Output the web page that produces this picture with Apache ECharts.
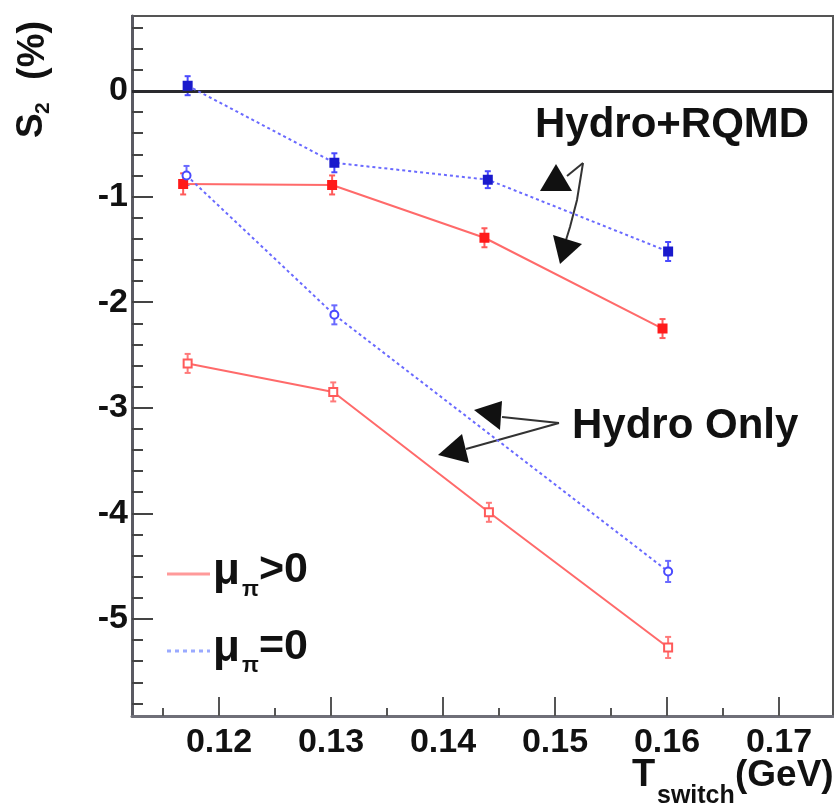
<!DOCTYPE html>
<html>
<head>
<meta charset="utf-8">
<script src="https://cdn.jsdelivr.net/npm/echarts@6/dist/echarts.min.js"></script>
<style>
  html, body { margin: 0; padding: 0; background: #fff; }
  #chart { width: 834px; height: 803px; }
</style>
</head>
<body>
<div id="chart"></div>
<script>
// Tick positions and labels
const xMajorTicks = [0.12, 0.13, 0.14, 0.15, 0.16, 0.17];
const xMinorTicks = [0.115, 0.125, 0.135, 0.145, 0.155, 0.165];
const yMajorTicks = [-5, -4, -3, -2, -1, 0];
const yMinorTicks = [-5.8, -5.6, -5.4, -5.2, -4.8, -4.6, -4.4, -4.2, -3.8, -3.6, -3.4, -3.2,
                     -2.8, -2.6, -2.4, -2.2, -1.8, -1.6, -1.4, -1.2, -0.8, -0.6, -0.4, -0.2,
                     0.2, 0.4, 0.6];

// Hydro+RQMD, mu_pi > 0 (filled red)
const rqmdMuPosT   = [0.1168, 0.1301, 0.1437, 0.1596];
const rqmdMuPosS2  = [-0.88, -0.89, -1.39, -2.25];
const rqmdMuPosErr = [0.10, 0.09, 0.09, 0.09];
// Hydro+RQMD, mu_pi = 0 (filled blue)
const rqmdMuZeroT   = [0.1172, 0.1303, 0.1440, 0.1601];
const rqmdMuZeroS2  = [0.05, -0.68, -0.84, -1.52];
const rqmdMuZeroErr = [0.09, 0.09, 0.08, 0.09];
// Hydro only, mu_pi > 0 (open red)
const hydroMuPosT   = [0.1172, 0.1302, 0.1441, 0.1601];
const hydroMuPosS2  = [-2.58, -2.85, -3.99, -5.27];
const hydroMuPosErr = [0.09, 0.09, 0.09, 0.10];
// Hydro only, mu_pi = 0 (open blue)
const hydroMuZeroT   = [0.1171, 0.1303, 0.1601];
const hydroMuZeroS2  = [-0.80, -2.12, -4.55];
const hydroMuZeroErr = [0.09, 0.09, 0.10];

const RED_LINE = '#ff6a6a';
const BLUE_LINE = '#6a6aff';
const FONT = '"Liberation Sans", Arial, sans-serif';

function pairs(xs, ys) { return xs.map((x, i) => [x, ys[i]]); }
function errRows(xs, ys, es) { return xs.map((x, i) => [x, ys[i] - es[i], ys[i] + es[i]]); }

function errorSeries(rows, color) {
  return {
    type: 'custom',
    xAxisIndex: 0, yAxisIndex: 0,
    data: rows,
    encode: { x: 0, y: [1, 2] },
    z: 4,
    silent: true,
    renderItem: function (params, api) {
      const x = api.value(0);
      const lo = api.coord([x, api.value(1)]);
      const hi = api.coord([x, api.value(2)]);
      const cap = 3;
      const style = { stroke: color, lineWidth: 2 };
      return {
        type: 'group',
        children: [
          { type: 'line', shape: { x1: lo[0], y1: lo[1], x2: hi[0], y2: hi[1] }, style: style },
          { type: 'line', shape: { x1: lo[0] - cap, y1: lo[1], x2: lo[0] + cap, y2: lo[1] }, style: style },
          { type: 'line', shape: { x1: hi[0] - cap, y1: hi[1], x2: hi[0] + cap, y2: hi[1] }, style: style }
        ]
      };
    }
  };
}

function lineSeries(name, data, lineColor, dashed, symbol, markColor) {
  return {
    name: name,
    type: 'line',
    xAxisIndex: 0, yAxisIndex: 0,
    data: data,
    symbol: symbol,
    symbolSize: 8,
    showSymbol: true,
    z: 5,
    lineStyle: { color: lineColor, width: 2, type: dashed ? [3, 3] : 'solid' },
    itemStyle: { color: markColor, borderColor: markColor, borderWidth: 2 },
    emphasis: { disabled: true },
    animation: false
  };
}

const chart = echarts.init(document.getElementById('chart'), null, { renderer: 'canvas' });

const tickText = { color: '#111', fontSize: 34, fontWeight: 'bold', fontFamily: FONT };

chart.setOption({
  animation: false,
  backgroundColor: '#fff',
  grid: {
    left: 132, top: 16, width: 701, height: 700,
    show: true, borderColor: '#555', borderWidth: 2, backgroundColor: 'transparent'
  },
  xAxis: [
    {
      type: 'value', min: 0.112232, max: 0.174821, position: 'bottom',
      axisLine: { show: true, onZero: false, lineStyle: { color: '#6f6f78', width: 3 } },
      axisTick: { show: true, inside: true, length: 19, customValues: xMajorTicks,
                  lineStyle: { color: '#555', width: 2 } },
      axisLabel: Object.assign({ show: true, margin: 10, customValues: xMajorTicks,
                  formatter: v => v.toFixed(2) }, tickText),
      splitLine: { show: false }
    },
    {
      type: 'value', min: 0.112232, max: 0.174821, position: 'bottom',
      axisLine: { show: false, onZero: false },
      axisTick: { show: true, inside: true, length: 8, customValues: xMinorTicks,
                  lineStyle: { color: '#555', width: 2 } },
      axisLabel: { show: false },
      splitLine: { show: false }
    }
  ],
  yAxis: [
    {
      type: 'value', min: -5.919, max: 0.710, position: 'left',
      axisLine: { show: true, onZero: false, lineStyle: { color: '#5a5a62', width: 3 } },
      axisTick: { show: true, inside: true, length: 21, customValues: yMajorTicks,
                  lineStyle: { color: '#444', width: 2 } },
      axisLabel: Object.assign({ show: true, margin: 4, customValues: yMajorTicks,
                  formatter: v => String(v) }, tickText),
      splitLine: { show: false }
    },
    {
      type: 'value', min: -5.919, max: 0.710, position: 'left',
      axisLine: { show: false, onZero: false },
      axisTick: { show: true, inside: true, length: 11, customValues: yMinorTicks,
                  lineStyle: { color: '#444', width: 2 } },
      axisLabel: { show: false },
      splitLine: { show: false }
    }
  ],
  series: [
    Object.assign(lineSeries('Hydro+RQMD, \u03bc\u03c0>0', pairs(rqmdMuPosT, rqmdMuPosS2),
                             RED_LINE, false, 'rect', '#ff1a1a'), {
      markLine: {
        silent: true, symbol: 'none', label: { show: false },
        lineStyle: { color: '#2a2a2e', width: 3, type: 'solid' },
        data: [{ yAxis: 0 }]
      }
    }),
    lineSeries('Hydro+RQMD, \u03bc\u03c0=0', pairs(rqmdMuZeroT, rqmdMuZeroS2),
               BLUE_LINE, true, 'rect', '#1a1acc'),
    lineSeries('Hydro only, \u03bc\u03c0>0', pairs(hydroMuPosT, hydroMuPosS2),
               RED_LINE, false, 'emptyRect', '#ff5a5a'),
    lineSeries('Hydro only, \u03bc\u03c0=0', pairs(hydroMuZeroT, hydroMuZeroS2),
               BLUE_LINE, true, 'emptyCircle', '#4a4aff'),
    errorSeries(errRows(rqmdMuPosT, rqmdMuPosS2, rqmdMuPosErr), '#ff5a5a'),
    errorSeries(errRows(rqmdMuZeroT, rqmdMuZeroS2, rqmdMuZeroErr), '#4a4aff'),
    errorSeries(errRows(hydroMuPosT, hydroMuPosS2, hydroMuPosErr), '#ff7a7a'),
    errorSeries(errRows(hydroMuZeroT, hydroMuZeroS2, hydroMuZeroErr), '#6a6aff')
  ],
  graphic: [
    // y-axis title: S_2 (%)
    {
      type: 'group', x: 32, y: 138, rotation: Math.PI / 2,
      children: [
        { type: 'text', x: 0, y: 0, style: { text: 'S', font: 'bold 37px ' + FONT, fill: '#111',
          textAlign: 'left', textVerticalAlign: 'middle' } },
        { type: 'text', x: 24, y: 11, style: { text: '2', font: 'bold 21px ' + FONT, fill: '#111',
          textAlign: 'left', textVerticalAlign: 'middle' } },
        { type: 'text', x: 58, y: 2, style: { text: '(%)', font: 'bold 38px ' + FONT, fill: '#111',
          textAlign: 'left', textVerticalAlign: 'middle' } }
      ]
    },
    // x-axis title: T_switch(GeV)
    { type: 'text', x: 632, y: 776, style: { text: 'T', font: 'bold 38px ' + FONT, fill: '#111',
      textAlign: 'left', textVerticalAlign: 'middle' } },
    { type: 'text', x: 657, y: 796, style: { text: 'switch', font: 'bold 25px ' + FONT, fill: '#111',
      textAlign: 'left', textVerticalAlign: 'middle' } },
    { type: 'text', x: 735, y: 776, style: { text: '(GeV)', font: 'bold 37px ' + FONT, fill: '#111',
      textAlign: 'left', textVerticalAlign: 'middle' } },

    // annotation: Hydro+RQMD with two arrows
    { type: 'text', x: 535, y: 125, style: { text: 'Hydro+RQMD', font: 'bold 42px ' + FONT, fill: '#111',
      textAlign: 'left', textVerticalAlign: 'middle' } },
    { type: 'polyline', shape: { points: [[583, 163], [567, 176]] }, style: { stroke: '#333', lineWidth: 2 } },
    { type: 'polygon', shape: { points: [[556, 164], [540, 191], [572, 191]] }, style: { fill: '#111' } },
    { type: 'polyline', shape: { points: [[583, 163], [577, 200], [570, 227], [566, 240]] },
      style: { stroke: '#333', lineWidth: 2 } },
    { type: 'polygon', shape: { points: [[553, 235], [582, 244], [560, 264]] }, style: { fill: '#111' } },

    // annotation: Hydro Only with two arrows
    { type: 'text', x: 572, y: 426, style: { text: 'Hydro Only', font: 'bold 42px ' + FONT, fill: '#111',
      textAlign: 'left', textVerticalAlign: 'middle' } },
    { type: 'polyline', shape: { points: [[559, 423], [502, 417]] }, style: { stroke: '#333', lineWidth: 2 } },
    { type: 'polygon', shape: { points: [[474, 410], [502, 401], [500, 430]] }, style: { fill: '#111' } },
    { type: 'polyline', shape: { points: [[559, 423], [466, 449]] }, style: { stroke: '#333', lineWidth: 2 } },
    { type: 'polygon', shape: { points: [[438, 455], [462, 434], [469, 463]] }, style: { fill: '#111' } },

    // legend
    { type: 'line', shape: { x1: 167, y1: 574, x2: 210, y2: 574 }, style: { stroke: '#ff9a9a', lineWidth: 3 } },
    { type: 'text', x: 213, y: 572, style: { text: '\u03bc', font: 'bold 44px ' + FONT, fill: '#111',
      textAlign: 'left', textVerticalAlign: 'middle' } },
    { type: 'text', x: 242, y: 590, style: { text: '\u03c0', font: 'bold 22px ' + FONT, fill: '#111',
      textAlign: 'left', textVerticalAlign: 'middle' } },
    { type: 'text', x: 259, y: 570, style: { text: '>0', font: 'bold 43px ' + FONT, fill: '#111',
      textAlign: 'left', textVerticalAlign: 'middle' } },

    { type: 'line', shape: { x1: 167, y1: 651, x2: 210, y2: 651 },
      style: { stroke: '#9aaaff', lineWidth: 3, lineDash: [4, 4] } },
    { type: 'text', x: 213, y: 649, style: { text: '\u03bc', font: 'bold 44px ' + FONT, fill: '#111',
      textAlign: 'left', textVerticalAlign: 'middle' } },
    { type: 'text', x: 242, y: 666, style: { text: '\u03c0', font: 'bold 22px ' + FONT, fill: '#111',
      textAlign: 'left', textVerticalAlign: 'middle' } },
    { type: 'text', x: 259, y: 647, style: { text: '=0', font: 'bold 43px ' + FONT, fill: '#111',
      textAlign: 'left', textVerticalAlign: 'middle' } }
  ]
});
</script>
</body>
</html>
